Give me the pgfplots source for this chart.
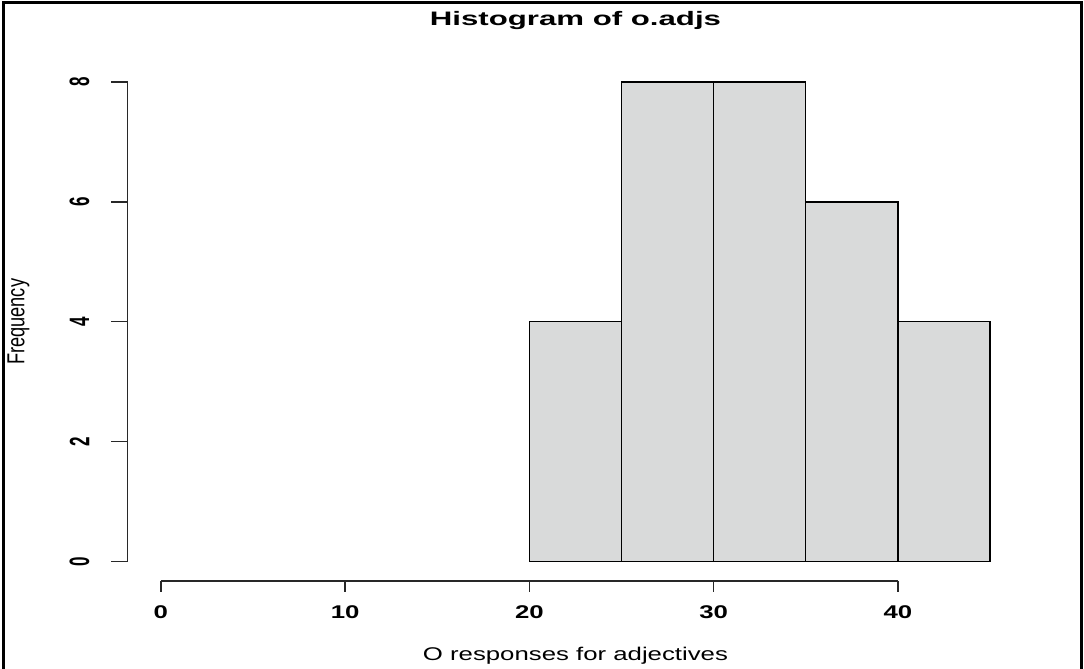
\documentclass[border=0pt]{standalone}
\usepackage{fontspec}
\setmainfont{Liberation Sans}
\usepackage{graphicx}
\usepackage{pgfplots}
\pgfplotsset{compat=1.18}
\definecolor{barfill}{RGB}{217,218,218}
\definecolor{axisc}{RGB}{40,40,40}
\begin{document}
\begin{tikzpicture}
\path[use as bounding box] (-127.7pt,-88.1pt) rectangle (956.3pt,580.9pt);
\fill[white] (-127.7pt,-88.1pt) rectangle (956.3pt,580.9pt);
\draw[line width=3pt] (-124.4pt,-95pt) -- (-124.4pt,577.9pt) -- (953.8pt,577.9pt) -- (953.8pt,-95pt);
\begin{axis}[
  at={(0pt,0pt)}, anchor=south west,
  scale only axis, width=895.5pt, height=518.1pt,
  xmin=-1.8, xmax=46.8, ymin=-0.32, ymax=8.32,
  axis line style={draw=none},
  tick style={draw=none},
  major tick length=0pt,
  clip=false,
  xtick={0,10,20,30,40}, ytick={0,2,4,6,8},
  /pgf/number format/assume math mode=true,
  xticklabel={\scalebox{1.4}[1]{\fontsize{18.4}{20}\selectfont\bfseries\pgfmathprintnumber{\tick}}},
  xticklabel style={anchor=center, yshift=-31.3pt},
  yticklabel={\scalebox{1.65}[1]{\rotatebox{90}{\fontsize{17}{20}\selectfont\bfseries\pgfmathprintnumber{\tick}}}},
  yticklabel style={anchor=center, xshift=-48.2pt},
  title={\scalebox{1.6}[1]{\fontsize{19.5}{22}\selectfont\bfseries Histogram of o.adjs}},
  title style={at={(axis description cs:0.5,1)}, anchor=base, yshift=30.8pt},
  xlabel={\scalebox{1.4}[1]{\fontsize{18.4}{20}\selectfont O responses for adjectives}},
  xlabel style={at={(axis description cs:0.5,-0.1527)}, anchor=base},
  ylabel={\scalebox{1}[1.35]{\fontsize{18.2}{20}\selectfont Frequency}},
  ylabel style={at={(axis description cs:-0.1219,0.5)}, anchor=center},
]
\addplot[ybar interval, fill=barfill, draw=black, line width=1.3pt]
  coordinates {(20,4) (25,8) (30,8) (35,6) (40,4) (45,4)};
\draw[line width=1.3pt, axisc] (axis cs:0,-0.32) -- (axis cs:40,-0.32);
\pgfplotsinvokeforeach{0,10,20,30,40}{\draw[line width=1.3pt, axisc] (axis cs:#1,-0.32) -- ++(0pt,-10.7pt);}
\draw[line width=1.3pt, axisc] (axis cs:-1.8,0) -- (axis cs:-1.8,8);
\pgfplotsinvokeforeach{0,2,4,6,8}{\draw[line width=1.3pt, axisc] (axis cs:-1.8,#1) -- ++(-16.7pt,0pt);}
\end{axis}
\end{tikzpicture}
\end{document}
